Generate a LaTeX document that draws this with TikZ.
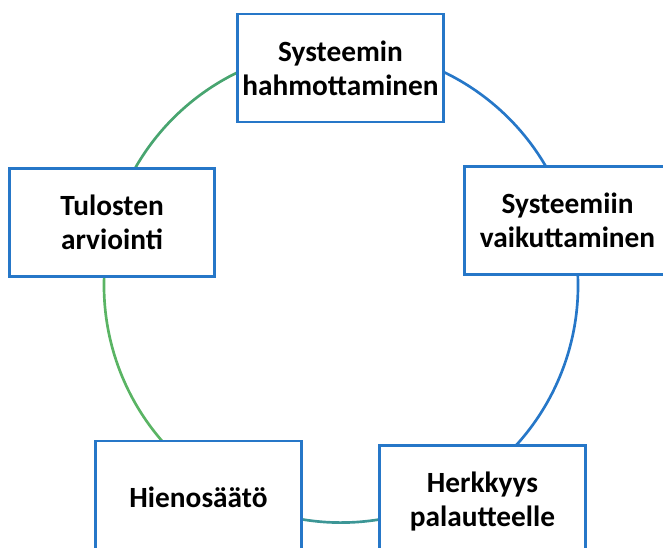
\documentclass[tikz,border=0pt]{standalone}
\usepackage{fontspec}
\setmainfont{Carlito}
\usepackage{tikz}
\usetikzlibrary{calc,backgrounds}
\usepackage{xcolor}
\definecolor{boxblue}{HTML}{2677C8}
\definecolor{ringteal}{HTML}{3C9696}
\definecolor{ringgreen}{HTML}{5AB464}
\definecolor{ringmint}{HTML}{48A570}
\newcommand{\ringr}{177.75pt}

\begin{document}
\begin{tikzpicture}[x=0.75pt,y=0.75pt, every node/.style={font=\bfseries\fontsize{22}{25.5}\selectfont}]
\tikzstyle{box}=[draw=boxblue,line width=2.2pt,fill=white,align=center,minimum width=154pt,minimum height=81pt,inner sep=0pt]
\tikzstyle{ring}=[line width=2pt,to path={let \p1=($(\tikztostart)-(hub)$), \p2=($(\tikztotarget)-(hub)$), \n1={atan2(\y1,\x1)}, \n2={atan2(\y2,\x2)}, \n3={\n2>\n1 ? \n2-360 : \n2} in ($(hub)+(\n1:\ringr)$) arc[start angle=\n1,end angle=\n3,radius=\ringr]}]
\useasboundingbox (0,0) rectangle (663,547);
\coordinate (hub) at (341,261.4);
\node[box] (hahmotus) at (340.5,479) {Systeemin\\hahmottaminen};
\node[box] (vaikutus) at (567.5,326.5) {Systeemiin\\vaikuttaminen};
\node[box,minimum height=84pt] (herkkyys) at (482.5,45.5) {Herkkyys\\palautteelle};
\node[box,minimum height=84pt] (saato) at (198.5,50) {Hienosäätö};
\node[box] (arviointi) at (112,324.5) {Tulosten\\arviointi};
\begin{scope}[on background layer]
\draw[ring,boxblue] (hahmotus) to (vaikutus);
\draw[ring,boxblue] (vaikutus) to (herkkyys);
\draw[ring,ringteal] (herkkyys) to (saato);
\draw[ring,ringgreen] (saato) to (arviointi);
\draw[ring,ringmint] (arviointi) to (hahmotus);
\end{scope}
\end{tikzpicture}
\end{document}
